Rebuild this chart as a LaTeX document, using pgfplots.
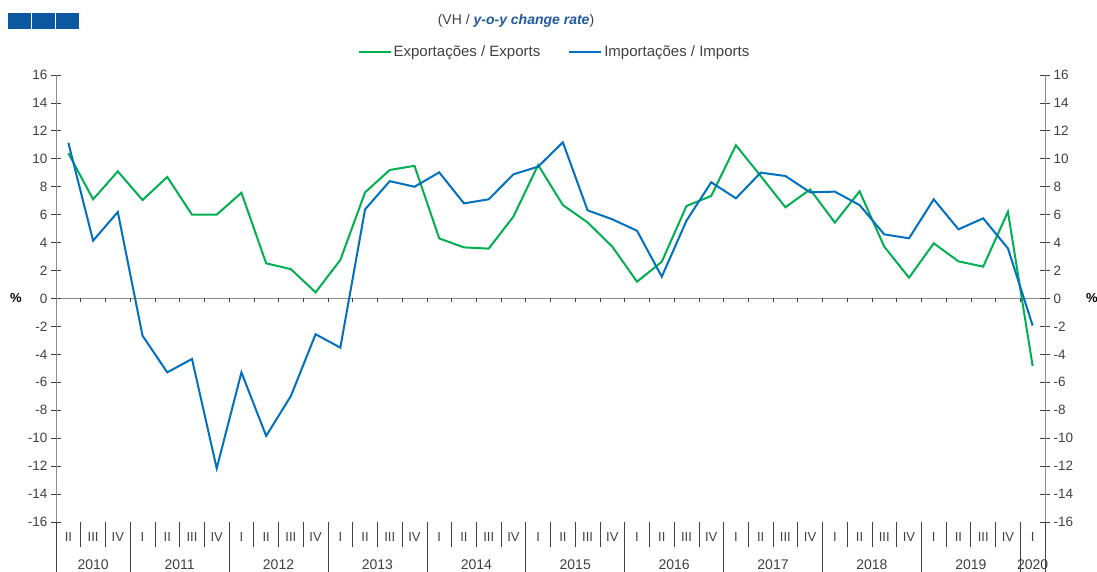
\documentclass[border=0pt]{standalone}
\usepackage{pgfplots}
\pgfplotsset{compat=1.18}
\usepackage{fontspec}
\setmainfont{Liberation Sans}
\definecolor{expg}{HTML}{00B050}
\definecolor{impb}{HTML}{0070C0}
\definecolor{txt}{HTML}{404040}
\definecolor{axg}{HTML}{8C8C8C}
\definecolor{ttlb}{HTML}{1F5A9E}
\definecolor{sqb}{HTML}{0B57A0}
\pgfplotstableread{
x ex im
0 10.40 11.15
1 7.10 4.14
2 9.10 6.19
3 7.05 -2.66
4 8.70 -5.29
5 6.00 -4.33
6 6.00 -12.16
7 7.57 -5.29
8 2.52 -9.84
9 2.10 -6.98
10 0.44 -2.56
11 2.76 -3.52
12 7.60 6.38
13 9.20 8.40
14 9.50 8.00
15 4.30 9.03
16 3.66 6.81
17 3.57 7.10
18 5.86 8.89
19 9.56 9.44
20 6.69 11.18
21 5.45 6.31
22 3.71 5.67
23 1.20 4.85
24 2.63 1.56
25 6.62 5.57
26 7.34 8.32
27 10.97 7.17
28 8.77 9.01
29 6.53 8.77
30 7.81 7.60
31 5.43 7.65
32 7.67 6.69
33 3.71 4.59
34 1.49 4.31
35 3.95 7.10
36 2.66 4.95
37 2.28 5.74
38 6.21 3.59
39 -4.83 -1.94
}\data
\begin{document}
\begin{tikzpicture}[font=\fontsize{13}{15}\selectfont]
\useasboundingbox (-56pt,-50pt) rectangle (1041pt,522pt);
% icon
\fill[sqb] (-48pt,493pt) rectangle (-25pt,509pt);
\fill[sqb] (-24pt,493pt) rectangle (-1pt,509pt);
\fill[sqb] (0pt,493pt) rectangle (23pt,509pt);
% title
\node[txt, font=\fontsize{14}{16}\selectfont] at (460pt,501pt) {(VH / {\color{ttlb}\bfseries\itshape y-o-y change rate})};
% zero line and its ticks
\draw[axg, line width=0.8pt] (0pt,223.5pt) -- (989pt,223.5pt);
\foreach \k in {1,...,39} {
  \draw[txt, line width=0.6pt] ({\k*24.725pt},223.5pt) -- ++(0pt,-4pt);
}
% bottom category separators
\draw[txt, line width=0.7pt] (0pt,0pt) -- (0pt,-50pt);
\draw[txt, line width=0.7pt] (989pt,0pt) -- (989pt,-50pt);
\foreach \k in {1,2,4,5,6,8,9,10,12,13,14,16,17,18,20,21,22,24,25,26,28,29,30,32,33,34,36,37,38} {
  \draw[txt, line width=0.7pt] ({\k*24.725pt},0pt) -- ++(0pt,-25pt);
}
\foreach \k in {3,7,11,15,19,23,27,31,35,39} {
  \draw[txt, line width=0.7pt] ({\k*24.725pt},0pt) -- ++(0pt,-50pt);
}
% quarter labels
\foreach \k/\q in {0/II,1/III,2/IV,
  3/I,4/II,5/III,6/IV, 7/I,8/II,9/III,10/IV, 11/I,12/II,13/III,14/IV,
  15/I,16/II,17/III,18/IV, 19/I,20/II,21/III,22/IV, 23/I,24/II,25/III,26/IV,
  27/I,28/II,29/III,30/IV, 31/I,32/II,33/III,34/IV, 35/I,36/II,37/III,38/IV, 39/I} {
  \node[txt, font=\fontsize{13}{15}\selectfont] at ({(\k+0.5)*24.725pt},-15pt) {\q};
}
% year labels
\foreach \cc/\yr in {1.5/2010, 5/2011, 9/2012, 13/2013, 17/2014, 21/2015, 25/2016, 29/2017, 33/2018, 37/2019, 39.5/2020} {
  \node[txt, font=\fontsize{14}{16}\selectfont] at ({\cc*24.725pt},-43pt) {\yr};
}
% percent signs
\node[black, font=\bfseries\fontsize{13}{15}\selectfont] at (-40pt,223.5pt) {\%};
\node[black, font=\bfseries\fontsize{13}{15}\selectfont] at (1036pt,223.5pt) {\%};
\begin{axis}[
  at={(0pt,0pt)}, anchor=south west,
  scale only axis, width=989pt, height=447pt,
  xmin=-0.5, xmax=39.5, ymin=-16, ymax=16,
  axis x line=none, axis y line*=left,
  y axis line style={axg, line width=0.8pt},
  ytick={-16,-14,...,16},
  tick align=center, major tick length=10pt,
  ytick style={txt, line width=0.8pt},
  yticklabel style={txt, font=\fontsize{13.5}{15}\selectfont},
  /pgf/number format/assume math mode=true,
  clip=false,
  legend style={at={(0.504,1.052)}, anchor=center, draw=none, fill=none,
    legend columns=2, font=\fontsize{15}{17}\selectfont, text=txt,
    /tikz/every even column/.append style={column sep=26pt},
    inner sep=0pt},
  legend cell align=left,
  legend image code/.code={\draw[#1] (0pt,0pt) -- (32pt,0pt);},
]
\addplot[expg, line width=2pt] table[x=x,y=ex] {\data};
\addlegendentry{Exportações / Exports}
\addplot[impb, line width=2pt] table[x=x,y=im] {\data};
\addlegendentry{Importações / Imports}
\end{axis}
\begin{axis}[
  at={(0pt,0pt)}, anchor=south west,
  scale only axis, width=989pt, height=447pt,
  xmin=-0.5, xmax=39.5, ymin=-16, ymax=16,
  axis x line=none, axis y line*=right,
  y axis line style={axg, line width=0.8pt},
  ytick={-16,-14,...,16},
  tick align=center, major tick length=10pt,
  ytick style={txt, line width=0.8pt},
  yticklabel style={txt, font=\fontsize{13.5}{15}\selectfont},
  /pgf/number format/assume math mode=true,
]
\end{axis}
\end{tikzpicture}
\end{document}
